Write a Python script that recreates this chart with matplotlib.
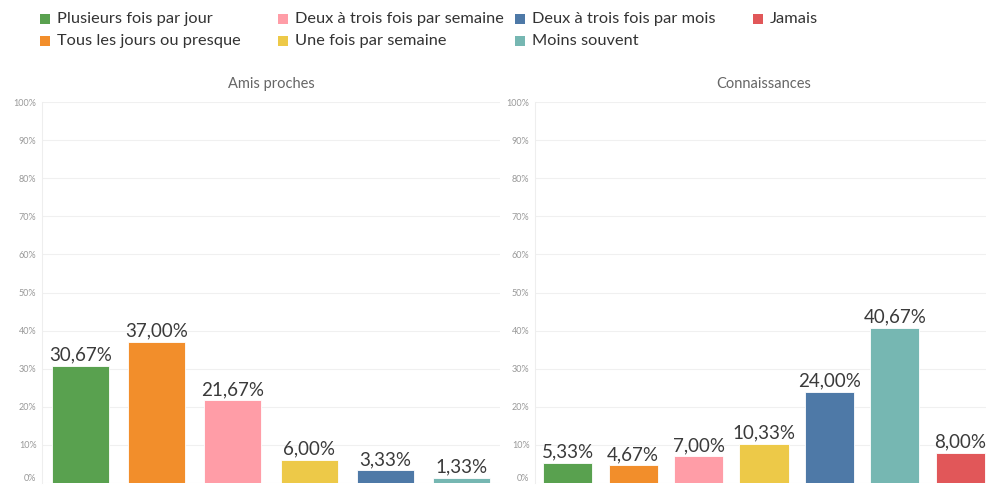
import matplotlib
matplotlib.use("Agg")
import matplotlib.pyplot as plt
from matplotlib.patches import Rectangle

plt.rcParams["font.family"] = ["Lato", "DejaVu Sans"]

# Categories and colours (Tableau 10)
categories = ["Plusieurs fois par jour", "Tous les jours ou presque",
              "Deux à trois fois par semaine", "Une fois par semaine",
              "Deux à trois fois par mois", "Moins souvent", "Jamais"]
colors = ["#59A14F", "#F28E2B", "#FF9DA7", "#EDC948", "#4E79A7", "#76B7B2", "#E15759"]

amis_values = [30.67, 37.00, 21.67, 6.00, 3.33, 1.33]
connaissances_values = [5.33, 4.67, 7.00, 10.33, 24.00, 40.67, 8.00]

panel_titles = ["Amis proches", "Connaissances"]
yticks = list(range(0, 101, 10))

W, H = 986, 486
fig = plt.figure(figsize=(W / 100, H / 100), dpi=100)


def fx(px):
    return px / W


def fy(py):
    return 1 - py / H


def draw_panel(left_px, values, title, bar_w):
    ax = fig.add_axes([fx(left_px), fy(483), fx(458), (483 - 102) / H])
    n = len(values)
    x = list(range(n))
    ax.bar(x, values, width=bar_w, color=colors[:n], edgecolor="white", linewidth=0.6, zorder=3)
    for xi, v in zip(x, values):
        label = f"{v:.2f}".replace(".", ",") + "%"
        ax.text(xi, v + 0.6, label, ha="center", va="bottom", fontsize=13.5, color="#3a3a3a", zorder=4)
    ax.set_xlim(-0.5, n - 0.5)
    ax.set_ylim(0, 100)
    ax.set_yticks(yticks)
    ax.set_yticklabels([f"{t}%" for t in yticks], fontsize=6.5, color="#999999")
    # the 0% label sits a little higher so it stays inside the picture
    ax.get_yticklabels()[0].set_verticalalignment("bottom")
    ax.set_xticks([])
    ax.tick_params(axis="y", length=0, pad=4)
    ax.grid(axis="y", color="#f0f0f0", linewidth=0.8, zorder=0)
    for side in ["top", "right", "bottom"]:
        ax.spines[side].set_visible(False)
    ax.spines["left"].set_color("#eeeeee")
    ax.spines["left"].set_linewidth(0.8)
    fig.text(fx(left_px + 229), fy(84), title, ha="center", va="center", fontsize=10.5, color="#666666")
    return ax


draw_panel(42, amis_values, panel_titles[0], 0.75)
draw_panel(535, connaissances_values, panel_titles[1], 0.75)

# Legend, laid out in four columns like the original
legend_cols = [40, 278, 515, 753]
legend_rows = [19, 41]
for i, (cat, col) in enumerate(zip(categories, colors)):
    cx = legend_cols[i // 2]
    cy = legend_rows[i % 2]
    fig.patches.append(Rectangle((fx(cx), fy(cy + 5)), fx(10), 10 / H, transform=fig.transFigure,
                                 facecolor=col, edgecolor="none"))
    fig.text(fx(cx + 17), fy(cy), cat, ha="left", va="center", fontsize=11.8, color="#333333")

fig.savefig("out.png", dpi=100)
